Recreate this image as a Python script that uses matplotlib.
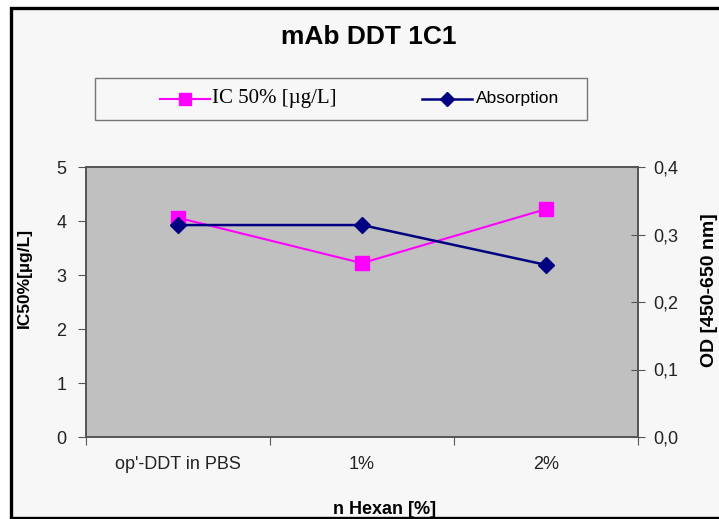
import matplotlib
matplotlib.use("Agg")
import matplotlib.pyplot as plt
from matplotlib.patches import Rectangle
from matplotlib.lines import Line2D

categories = ["op'-DDT in PBS", "1%", "2%"]
ic50 = [4.06, 3.22, 4.22]
absorption = [0.314, 0.314, 0.255]
left_ticks = [0, 1, 2, 3, 4, 5]
right_ticks = [0.0, 0.1, 0.2, 0.3, 0.4]
right_labels = ["0,0", "0,1", "0,2", "0,3", "0,4"]

W, H = 719, 519
fig = plt.figure(figsize=(W / 100, H / 100), dpi=100)
fig.patch.set_facecolor("white")
sans = "Liberation Sans"
panel = "#f7f7f7"

# chart area with its black frame (cut by the right edge)
fig.patches.append(Rectangle((11 / W, 1 - 517.5 / H), (W + 20) / W, (517.5 - 8) / H,
                             transform=fig.transFigure, facecolor=panel,
                             edgecolor="black", lw=2.4, zorder=-10))

ax = fig.add_axes([86 / W, 1 - 437 / H, (638 - 86) / W, (437 - 167) / H])
ax.set_facecolor("#c0c0c0")
ax2 = ax.twinx()
ax.set_zorder(1)
ax2.set_zorder(2)
ax2.patch.set_visible(False)

x = list(range(len(categories)))
ax.plot(x, ic50, color="#ff00ff", lw=1.5, marker="s", ms=10, zorder=3)
ax2.plot(x, absorption, color="#000080", lw=1.8, marker="D", ms=8, zorder=3)

ax.set_xlim(-0.5, len(categories) - 0.5)
ax.set_ylim(0, 5)
ax2.set_ylim(0, 0.4)

ax.set_xticks([i - 0.5 for i in range(len(categories) + 1)])
ax.set_xticklabels([])
ax.set_xticks(x, minor=True)
ax.set_xticklabels(categories, minor=True, fontsize=13, family=sans, color="#222222")
ax.tick_params(axis="x", which="major", direction="out", length=6, color="#555555")
ax.tick_params(axis="x", which="minor", length=0, pad=14)

ax.set_yticks(left_ticks)
ax.set_yticklabels([str(t) for t in left_ticks], fontsize=13, family=sans, color="#222222")
ax.tick_params(axis="y", direction="out", length=6, color="#555555", pad=8)

ax2.set_yticks(right_ticks)
ax2.set_yticklabels(right_labels, fontsize=13, family=sans, color="#222222")
ax2.tick_params(axis="y", direction="inout", length=10, color="#555555", pad=6)

for a in (ax, ax2):
    for s in a.spines.values():
        s.set_color("#555555")
        s.set_linewidth(1.2)

fig.text(369 / W, 1 - 37 / H, "mAb DDT 1C1", ha="center", va="center",
         fontsize=19, fontweight="bold", family=sans)
fig.text(385 / W, 1 - 509 / H, "n Hexan [%]", ha="center", va="center",
         fontsize=13, fontweight="bold", family=sans)
fig.text(24 / W, 1 - 278 / H, "IC50%[µg/L]", ha="center", va="center", rotation=90,
         fontsize=12.5, fontweight="bold", family=sans)
fig.text(709 / W, 1 - 290 / H, "OD [450-650 nm]", ha="center", va="center", rotation=90,
         fontsize=14, fontweight="bold", family=sans)

# legend box
fig.patches.append(Rectangle((95 / W, 1 - 120 / H), (587 - 95) / W, (120 - 78) / H,
                             transform=fig.transFigure, facecolor=panel,
                             edgecolor="#777777", lw=1.0))
ly = 1 - 99 / H
fig.add_artist(Line2D([160 / W, 210 / W], [ly, ly], color="#ff00ff", lw=1.5,
                      transform=fig.transFigure))
fig.add_artist(Line2D([185 / W], [ly], color="#ff00ff", marker="s", ms=9, lw=0,
                      transform=fig.transFigure))
fig.text(212 / W, ly, "IC 50% [µg/L]", ha="left", va="center", fontsize=15,
         family="Liberation Serif")
fig.add_artist(Line2D([422 / W, 472 / W], [ly, ly], color="#000080", lw=1.8,
                      transform=fig.transFigure))
fig.add_artist(Line2D([447 / W], [ly], color="#000080", marker="D", ms=7, lw=0,
                      transform=fig.transFigure))
fig.text(476 / W, ly, "Absorption", ha="left", va="center", fontsize=12.5, family=sans)

fig.savefig("out.png", dpi=100, facecolor=fig.get_facecolor())
